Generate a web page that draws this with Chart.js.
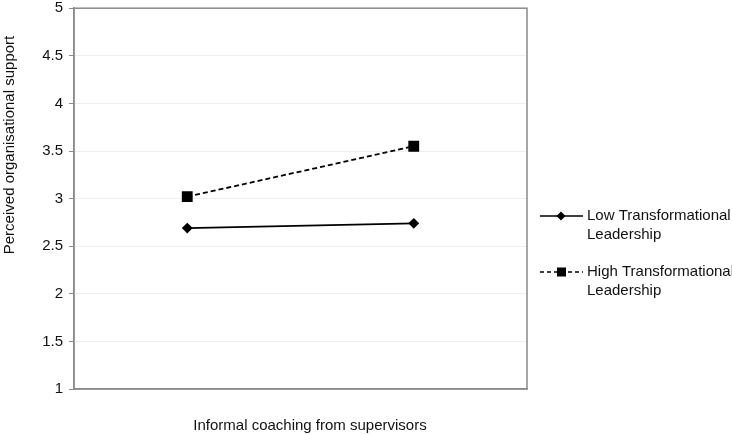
<!DOCTYPE html>
<html><head><meta charset="utf-8">
<script src="https://cdn.jsdelivr.net/npm/chart.js@4"></script>
<style>html,body{margin:0;padding:0;background:#fff}#wrap{width:732px;height:435px;position:relative}</style>
</head><body><div id="wrap"><canvas id="c" width="732" height="435"></canvas></div>
<script>
const categories = ['Low coaching', 'High coaching'];
const lowTL = [2.69, 2.74];
const highTL = [3.02, 3.55];
const seriesNames = [['Low Transformational', 'Leadership'], ['High Transformational', 'Leadership']];
const yTicks = [1, 1.5, 2, 2.5, 3, 3.5, 4, 4.5, 5];
const xTitle = 'Informal coaching from supervisors';
const yTitle = 'Perceived organisational support';

const FONT = '"Liberation Sans", Arial, sans-serif';

const frame = {
  id: 'frame',
  afterDraw(chart) {
    const {ctx, chartArea: a} = chart;
    ctx.save();
    ctx.strokeStyle = '#8a8a8a';
    ctx.lineWidth = 1.5;
    ctx.strokeRect(a.left, a.top, a.right - a.left, a.bottom - a.top);
    // axis titles
    ctx.fillStyle = '#111';
    ctx.font = '15px ' + FONT;
    ctx.textAlign = 'center';
    ctx.textBaseline = 'middle';
    ctx.fillText(xTitle, 310, 426);
    ctx.save();
    ctx.translate(10, 145);
    ctx.rotate(-Math.PI / 2);
    ctx.fillText(yTitle, 0, 0);
    ctx.restore();
    // legend
    const ds = chart.data.datasets;
    const ys = [216, 272];
    ds.forEach((d, i) => {
      const y = ys[i];
      ctx.strokeStyle = '#000';
      ctx.lineWidth = 1.6;
      ctx.setLineDash(i === 0 ? [] : [4, 3]);
      ctx.beginPath(); ctx.moveTo(540, y); ctx.lineTo(583, y); ctx.stroke();
      ctx.setLineDash([]);
      ctx.fillStyle = '#000';
      if (i === 0) {
        ctx.beginPath(); ctx.moveTo(561, y - 4.5); ctx.lineTo(565.5, y); ctx.lineTo(561, y + 4.5); ctx.lineTo(556.5, y); ctx.closePath(); ctx.fill();
      } else {
        ctx.fillRect(557, y - 4.5, 9, 9);
      }
      ctx.fillStyle = '#111';
      ctx.font = '15px ' + FONT;
      ctx.textBaseline = 'middle';
      ctx.textAlign = 'left';
      seriesNames[i].forEach((t, k) => ctx.fillText(t, 587, y + k * 19));
    });
    ctx.restore();
  }
};

new Chart(document.getElementById('c'), {
  type: 'line',
  data: {
    labels: categories,
    datasets: [
      { label: seriesNames[0].join(' '), data: lowTL, borderColor: '#000', backgroundColor: '#000', borderWidth: 1.8,
        pointStyle: 'rectRot', pointRadius: 4.2, pointHoverRadius: 4.2, tension: 0 },
      { label: seriesNames[1].join(' '), data: highTL, borderColor: '#000', backgroundColor: '#000', borderWidth: 1.8,
        borderDash: [5, 3], pointStyle: 'rect', pointRadius: 6.4, pointHoverRadius: 6.4, tension: 0 }
    ]
  },
  options: {
    responsive: false,
    animation: false,
    devicePixelRatio: 1,
    layout: { padding: { top: 0, right: 205, left: 0, bottom: 0 } },
    plugins: { legend: { display: false }, tooltip: { enabled: false } },
    scales: {
      x: {
        offset: true,
        grid: { display: false },
        border: { display: true, color: '#8a8a8a', width: 1.5 },
        ticks: { display: false },
        afterFit(s) { s.height = 46; }
      },
      y: {
        min: 1, max: 5,
        afterBuildTicks(s) { s.ticks = yTicks.map(v => ({ value: v })); },
        grid: { color: '#efefef', lineWidth: 1, tickColor: '#8a8a8a', tickLength: 5 },
        border: { display: true, color: '#8a8a8a', width: 1.5 },
        ticks: { color: '#111', font: { family: FONT, size: 15 }, padding: 6,
          callback: v => String(v) },
        afterFit(s) { s.width = 74; s.paddingTop = 4; s.paddingBottom = 0; }
      }
    }
  },
  plugins: [frame]
});
</script></body></html>
